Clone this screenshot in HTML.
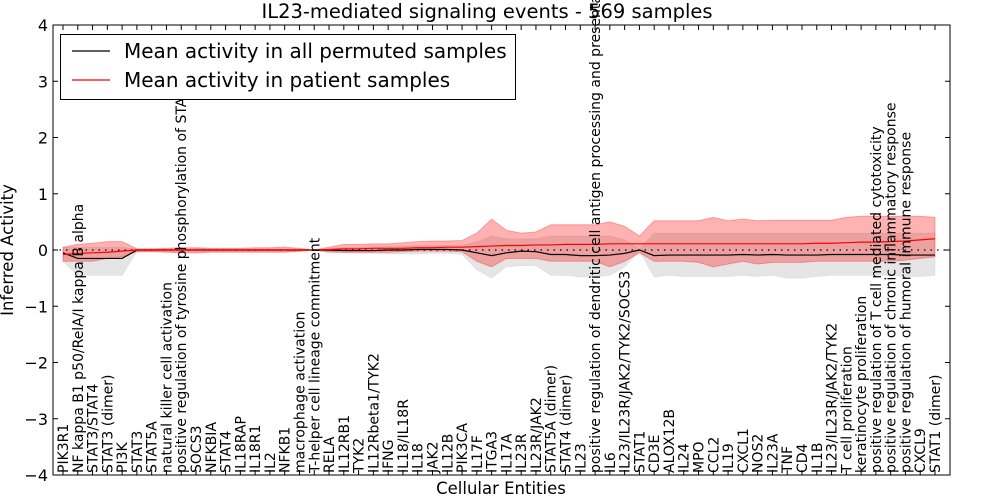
<!DOCTYPE html>
<html><head><meta charset="utf-8"><style>body{margin:0;background:#fff}svg{display:block;font-family:"DejaVu Sans","Liberation Sans",sans-serif}</style></head>
<body>
<svg id="c" width="1000" height="500"></svg>
<script>
const categories=["PIK3R1","NF kappa B1 p50/RelA/I kappa B alpha","STAT3/STAT4","STAT3 (dimer)","PI3K","STAT3","STAT5A","natural killer cell activation","positive regulation of tyrosine phosphorylation of STAT protein","SOCS3","NFKBIA","STAT4","IL18RAP","IL18R1","IL2","NFKB1","macrophage activation","T-helper cell lineage commitment","RELA","IL12RB1","TYK2","IL12Rbeta1/TYK2","IFNG","IL18/IL18R","IL18","JAK2","IL12B","PIK3CA","IL17F","ITGA3","IL17A","IL23R","IL23R/JAK2","STAT5A (dimer)","STAT4 (dimer)","IL23","positive regulation of dendritic cell antigen processing and presentation","IL6","IL23/IL23R/JAK2/TYK2/SOCS3","STAT1","CD3E","ALOX12B","IL24","MPO","CCL2","IL19","CXCL1","NOS2","IL23A","TNF","CD4","IL1B","IL23/IL23R/JAK2/TYK2","T cell proliferation","keratinocyte proliferation","positive regulation of T cell mediated cytotoxicity","positive regulation of chronic inflammatory response","positive regulation of humoral immune response","CXCL9","STAT1 (dimer)"];
const permMean=[-0.05,-0.15,-0.15,-0.15,-0.15,0,0,0,0,0,0,0,0,0,0,0,0,0,0,-0.01,-0.01,-0.01,0,0,0.01,0.01,0.01,0,-0.05,-0.1,-0.05,-0.02,-0.03,-0.08,-0.08,-0.1,-0.1,-0.09,-0.06,0,-0.1,-0.09,-0.09,-0.09,-0.09,-0.09,-0.08,-0.09,-0.08,-0.09,-0.09,-0.09,-0.08,-0.08,-0.08,-0.08,-0.08,-0.09,-0.09,-0.09];
const permUp=[0.05,0.05,0.05,0.05,0.05,0.02,0.02,0.02,0.02,0.03,0.02,0.02,0.02,0.02,0.02,0.02,0.02,0,0.02,0.05,0.05,0.06,0.06,0.07,0.08,0.08,0.08,0.08,0.15,0.25,0.2,0.2,0.2,0.25,0.25,0.25,0.25,0.25,0.18,0.02,0.3,0.3,0.3,0.3,0.3,0.3,0.3,0.3,0.3,0.3,0.3,0.3,0.3,0.3,0.3,0.3,0.3,0.3,0.3,0.3];
const permLo=[-0.2,-0.45,-0.45,-0.45,-0.45,-0.03,-0.03,-0.03,-0.03,-0.03,-0.03,-0.03,-0.03,-0.03,-0.03,-0.03,-0.03,0,-0.03,-0.05,-0.06,-0.06,-0.07,-0.07,-0.07,-0.06,-0.06,-0.08,-0.35,-0.5,-0.3,-0.28,-0.28,-0.45,-0.45,-0.48,-0.48,-0.45,-0.3,-0.02,-0.48,-0.45,-0.47,-0.47,-0.47,-0.47,-0.45,-0.47,-0.45,-0.5,-0.5,-0.47,-0.45,-0.45,-0.45,-0.45,-0.45,-0.47,-0.47,-0.45];
const patMean=[-0.08,-0.06,-0.05,-0.04,-0.02,0,0,0,0,0,0,0,0,0,0,0,0,0,0.01,0.02,0.02,0.03,0.03,0.03,0.04,0.04,0.05,0.05,0.06,0.07,0.08,0.08,0.09,0.09,0.1,0.1,0.1,0.11,0.11,0.11,0.11,0.11,0.11,0.11,0.11,0.11,0.11,0.11,0.11,0.11,0.11,0.12,0.12,0.13,0.14,0.14,0.15,0.16,0.18,0.2];
const patUp=[0.05,0.1,0.12,0.15,0.15,0.02,0.02,0.03,0.04,0.04,0.03,0.03,0.03,0.04,0.04,0.05,0.03,0,0.05,0.1,0.1,0.11,0.11,0.13,0.15,0.16,0.16,0.17,0.3,0.55,0.35,0.3,0.32,0.45,0.45,0.45,0.45,0.5,0.42,0.25,0.52,0.52,0.52,0.52,0.58,0.52,0.55,0.52,0.53,0.53,0.53,0.53,0.53,0.58,0.6,0.6,0.6,0.6,0.6,0.58];
const patLo=[-0.2,-0.2,-0.2,-0.15,-0.12,-0.03,-0.03,-0.04,-0.05,-0.05,-0.04,-0.04,-0.04,-0.04,-0.04,-0.04,-0.02,0,-0.04,-0.04,-0.04,-0.04,-0.04,-0.03,-0.02,-0.02,-0.02,-0.03,-0.2,-0.3,-0.15,-0.15,-0.15,-0.2,-0.2,-0.2,-0.2,-0.3,-0.2,-0.05,-0.2,-0.2,-0.2,-0.22,-0.3,-0.25,-0.2,-0.25,-0.22,-0.22,-0.22,-0.2,-0.2,-0.2,-0.2,-0.2,-0.2,-0.18,-0.15,-0.12];
const yTicks=[-4,-3,-2,-1,0,1,2,3,4];

const NS="http://www.w3.org/2000/svg",svg=document.getElementById('c');
const L=53,R=950,T=25,B=475,X0=63,X1=935;
const x=i=>X0+i*(X1-X0)/(categories.length-1);
const y=v=>B-(v+4)/8*(B-T);
function mk(t,a,p){const e=document.createElementNS(NS,t);for(const k in a)e.setAttribute(k,a[k]);(p||svg).appendChild(e);return e;}
function band(up,lo){let d='';up.forEach((v,i)=>d+=(i?'L':'M')+x(i)+','+y(v));for(let i=lo.length-1;i>=0;i--)d+='L'+x(i)+','+y(lo[i]);return d+'Z';}
function line(arr){return arr.map((v,i)=>(i?'L':'M')+x(i)+','+y(v)).join('');}
let e;
e=mk('path',{d:band(permUp,permLo),fill:'#000','fill-opacity':0.1,stroke:'#000','stroke-opacity':0.05});

e=mk('path',{d:band(patUp,patLo),fill:'#f00','fill-opacity':0.3,stroke:'#f00','stroke-opacity':0.3});

e=mk('line',{x1:L,x2:R,y1:y(0),y2:y(0),stroke:'#000','stroke-dasharray':'1.5,5','stroke-width':1.2});

e=mk('path',{d:line(permMean),fill:'none',stroke:'#000','stroke-width':1.2});

e=mk('path',{d:line(patMean),fill:'none',stroke:'#f00','stroke-width':1.2});

e=mk('rect',{x:L,y:T,width:R-L,height:B-T,fill:'none',stroke:'#000'});

yTicks.forEach(v=>{
  e=mk('line',{x1:L,x2:L+5,y1:y(v),y2:y(v),stroke:'#000'});
  
  e=mk('line',{x1:R-5,x2:R,y1:y(v),y2:y(v),stroke:'#000'});
  
  e=mk('text',{x:L-5,y:y(v)+6,'text-anchor':'end','font-size':16});e.textContent=(v<0?'\u2212'+(-v):v);
  
});
categories.forEach((c,i)=>{
  e=mk('line',{x1:x(i),x2:x(i),y1:B,y2:B-5,stroke:'#000'});
  
  e=mk('line',{x1:x(i),x2:x(i),y1:T,y2:T+5,stroke:'#000'});
  
  e=mk('text',{x:0,y:0,'font-size':14,transform:`translate(${x(i)+5},${B-2}) rotate(-90)`});e.textContent=c;
  
});
e=mk('text',{x:487,y:18,'text-anchor':'middle','font-size':19.5});e.textContent='IL23-mediated signaling events - 569 samples';

e=mk('text',{x:501,y:494,'text-anchor':'middle','font-size':16.5});e.textContent='Cellular Entities';

e=mk('text',{x:0,y:0,'text-anchor':'middle','font-size':16.5,transform:`translate(13,${(T+B)/2}) rotate(-90)`});e.textContent='Inferred Activity';

const lg=mk('g',{});
mk('rect',{x:60.5,y:34.5,width:455,height:65,fill:'#fff',stroke:'#000'},lg);
e=mk('line',{x1:72,x2:110,y1:51,y2:51,stroke:'#000','stroke-width':1.2},lg);

e=mk('text',{x:124,y:58,'font-size':20},lg);e.textContent='Mean activity in all permuted samples';

e=mk('line',{x1:72,x2:110,y1:80,y2:80,stroke:'#f00','stroke-width':1.2},lg);

e=mk('text',{x:124,y:87,'font-size':20},lg);e.textContent='Mean activity in patient samples';

</script>
</body></html>
